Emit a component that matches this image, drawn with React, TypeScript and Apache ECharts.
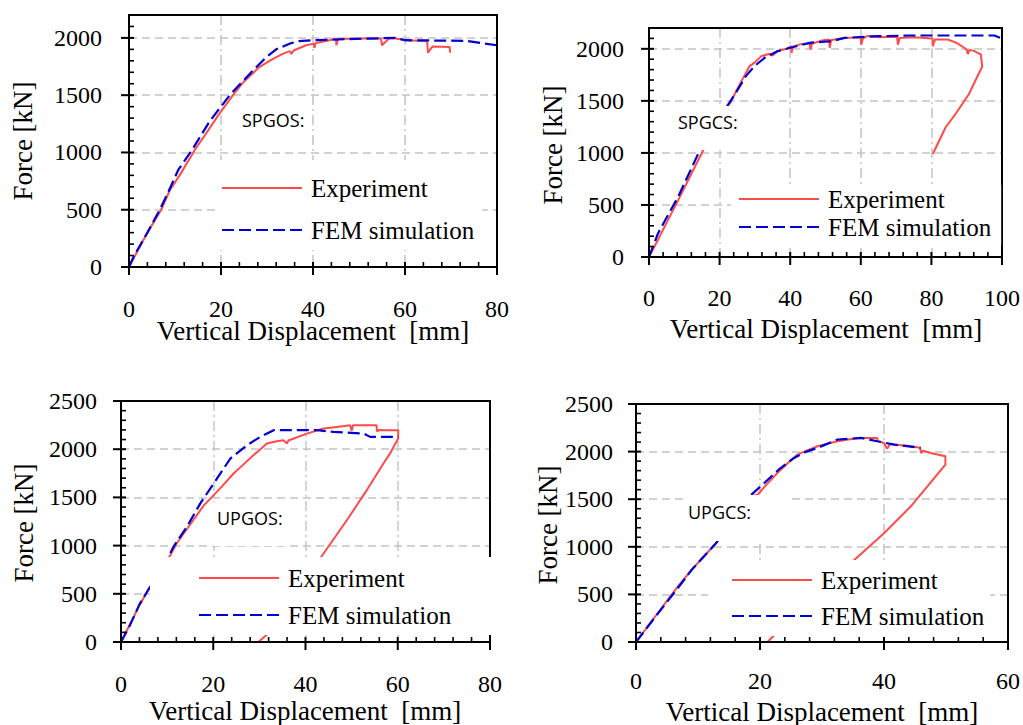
import React, { useEffect, useRef } from "react";
import * as echarts from "echarts";

type Pt = [number, number];

const SERIF = "Liberation Serif, Times New Roman, serif";
const SANS = "Open Sans, Noto Sans, sans-serif";

const seriesNames = ["Experiment", "FEM simulation"];
const panelLabels = ["SPGOS:", "SPGCS:", "UPGOS:", "UPGCS:"];
const xAxisTitle = "Vertical Displacement  [mm]";
const yAxisTitle = "Force [kN]";
const xMaxes = [80, 100, 80, 60];
const yMaxes = [2200, 2200, 2500, 2500];
const xTickLabels = [
  [0, 20, 40, 60, 80],
  [0, 20, 40, 60, 80, 100],
  [0, 20, 40, 60, 80],
  [0, 20, 40, 60],
];
const yTickLabels = [
  [0, 500, 1000, 1500, 2000],
  [0, 500, 1000, 1500, 2000],
  [0, 500, 1000, 1500, 2000, 2500],
  [0, 500, 1000, 1500, 2000, 2500],
];
const xMinorStep = 4;
const yMinorStep = 100;
const xInterval = 20;
const yInterval = 500;

// SPGOS
const spgosExp: Pt[] = [
  [0, 0], [2, 150], [4, 300], [7, 500], [8.9, 672], [11, 800], [14.3, 1022], [16.5, 1150],
  [19.5, 1330], [22.6, 1500], [25, 1620], [28.4, 1747], [31, 1810], [33.5, 1863], [35, 1885],
  [35.3, 1860], [35.8, 1890], [38.5, 1936], [40.2, 1950], [40.3, 1912], [40.6, 1955],
  [43.6, 1980], [45, 1994], [45.1, 1936], [45.4, 1990], [50, 1994], [54.8, 1994], [55, 1936],
  [55.6, 1960], [56.5, 1994], [58, 1994], [60, 1980], [64.8, 1974], [65, 1870], [65.5, 1900],
  [66, 1925], [69.7, 1920], [69.8, 1878], [70, 1878],
];
const spgosFem: Pt[] = [
  [0, 0], [1, 90], [4, 300], [6.7, 500], [8.5, 650], [10.7, 847], [13.7, 1022], [17.5, 1270],
  [21.9, 1500], [27, 1718], [29.9, 1834], [32, 1900], [34.9, 1950], [37, 1972], [40, 1980],
  [51.6, 1994], [58.1, 2000], [60, 1980], [73.3, 1974], [80, 1936],
];

// SPGCS
const spgcsExp: Pt[] = [
  [0, 0], [2, 130], [5, 330], [8.2, 542], [12, 800], [15.3, 1021], [18.5, 1230], [21.9, 1435],
  [23, 1480], [25.2, 1627], [27, 1740], [28.5, 1834], [30, 1870], [31.8, 1930], [34, 1950],
  [35, 1935], [36.5, 1978], [39, 2000], [40.3, 2026], [40.4, 1960], [40.7, 2020], [43, 2045],
  [45.5, 2057], [45.7, 1995], [46.2, 2050], [49, 2080], [51, 2089], [51.2, 2010], [51.6, 2085],
  [55.4, 2105], [60, 2112], [60.1, 2040], [60.6, 2100], [62, 2125], [65, 2112], [70.3, 2115],
  [70.5, 2040], [71, 2105], [75, 2110], [80.3, 2100], [80.4, 2025], [81, 2089], [84.6, 2089],
  [87, 2060], [89.3, 2010], [90, 1990], [90.3, 1950], [90.8, 1990], [92, 1980], [94, 1946],
  [94.4, 1830], [90.6, 1563], [86.8, 1372], [84, 1244], [80.4, 989],
];
const spgcsFem: Pt[] = [
  [0, 0], [2.5, 223], [5, 380], [8.2, 574], [13.9, 989], [18, 1230], [21.9, 1435], [25, 1600],
  [27.5, 1740], [29.9, 1834], [33, 1920], [36.5, 1978], [40, 2010], [45.9, 2060], [51.6, 2073],
  [55.4, 2105], [64.8, 2121], [74.2, 2128], [97.8, 2128], [100, 2099],
];

// UPGOS
const upgosExp: Pt[] = [
  [0, 0], [2, 190], [4, 380], [6.35, 576], [8.5, 730], [10.3, 869], [12.1, 1024], [15.7, 1266],
  [18, 1420], [20.1, 1524], [22, 1620], [24.4, 1748], [26.5, 1840], [28.7, 1938], [30, 1990],
  [31.6, 2059], [33.5, 2080], [35.2, 2093], [36, 2060], [36.3, 2090], [40.3, 2162], [43.9, 2214],
  [46.8, 2231], [49.7, 2248], [50, 2190], [50.3, 2248], [55.4, 2248], [55.5, 2185], [56, 2200],
  [56.9, 2197], [60.1, 2197], [60.1, 2110], [58.5, 1970], [56.9, 1852], [53.3, 1576],
  [49, 1266], [43.2, 869], [38, 500], [33.5, 180], [31.6, 76], [29.8, 0],
];
const upgosFem: Pt[] = [
  [0, 0], [2, 180], [4, 390], [6.35, 576], [8.5, 740], [10.3, 886], [11.4, 990], [14.3, 1197],
  [17.2, 1438], [20.1, 1645], [23.7, 1903], [27.3, 2041], [30.2, 2128], [33.1, 2197],
  [42.5, 2197], [46.1, 2179], [52.6, 2162], [54, 2128], [60.1, 2128],
];

// UPGCS
const upgcsExp: Pt[] = [
  [0, 0], [3, 260], [6.7, 580], [9, 760], [12.9, 1037], [15.5, 1270], [18.3, 1529], [19.6, 1547],
  [21, 1650], [22.8, 1775], [24.5, 1880], [26, 1968], [27.5, 2010], [29.3, 2056], [31, 2085],
  [32.5, 2109], [34.5, 2130], [36.3, 2144], [38.9, 2144], [39, 2110], [40, 2091], [40.5, 2030],
  [41, 2080], [44.3, 2056], [45.8, 2040], [46, 1985], [46.3, 2010], [47.5, 1986], [49.9, 1951],
  [49.9, 1863], [47, 1634], [44.3, 1423], [40, 1142], [35.2, 861], [28, 380], [22.3, 70],
  [21.2, 0],
];
const upgcsFem: Pt[] = [
  [0, 0], [3, 255], [6.7, 562], [9, 760], [12.9, 1037], [15.5, 1280], [18.3, 1529], [20.7, 1670],
  [23, 1810], [25.5, 1933], [27.5, 2000], [29.3, 2039], [32.5, 2127], [36.3, 2144], [38.9, 2109],
  [41.6, 2074], [45.9, 2039],
];

const expSets = [spgosExp, spgcsExp, upgosExp, upgcsExp];
const femSets = [spgosFem, spgcsFem, upgosFem, upgcsFem];

// layout (pixels)
const layouts = [
  {
    grid: { left: 129, top: 15, width: 368, height: 252 },
    xLabelOffset: 42, yLabelMargin: 27,
    xTitle: { x: 313, y: 331 }, yTitle: { x: 23, y: 141 },
    legend: { left: 220, top: 160, gap: 14, padding: [14, 8, 6, 1] },
    label: { x: 238, y: 104, padding: [7, 6, 19, 4] },
  },
  {
    grid: { left: 649, top: 28, width: 353, height: 229 },
    xLabelOffset: 41, yLabelMargin: 25,
    xTitle: { x: 826, y: 329 }, yTitle: { x: 553, y: 145 },
    legend: { left: 731, top: 185, gap: 0, padding: [0, 10, 4, 7] },
    label: { x: 674, y: 106, padding: [7, 5, 19, 4] },
  },
  {
    grid: { left: 121, top: 401, width: 369, height: 241 },
    xLabelOffset: 42, yLabelMargin: 24,
    xTitle: { x: 305, y: 711 }, yTitle: { x: 24, y: 523 },
    legend: { left: 150, top: 557, gap: 9, padding: [7, 40, 6, 48] },
    label: { x: 213, y: 502, padding: [7, 6, 19, 4] },
  },
  {
    grid: { left: 636, top: 404, width: 372, height: 238 },
    xLabelOffset: 39, yLabelMargin: 23,
    xTitle: { x: 822, y: 712 }, yTitle: { x: 548, y: 525 },
    legend: { left: 708, top: 560, gap: 8, padding: [6, 6, 6, 23] },
    label: { x: 684, y: 495, padding: [8, 36, 20, 4] },
  },
];

const RED = "#ff4a4a";
const BLUE = "#0000d4";

function makeAxis(i: number, isX: boolean) {
  return {
    type: "value",
    gridIndex: i,
    min: 0,
    max: isX ? xMaxes[i] : yMaxes[i],
    interval: isX ? xInterval : yInterval,
    axisLine: { show: false },
    axisTick: { show: false },
    minorTick: { show: false },
    axisLabel: { show: false },
    splitLine: {
      show: true,
      showMinLine: false,
      showMaxLine: false,
      lineStyle: { color: "#c4c4c4", width: 1.5, type: isX ? [10, 4, 2, 4] : [8, 5] },
    },
  };
}

// axis ticks, tick labels and axis lines drawn through the axes' own scales
function axisSeries(i: number) {
  const l = layouts[i];
  return {
    type: "custom",
    name: "axis" + i,
    xAxisIndex: i,
    yAxisIndex: i,
    data: [[0, 0]],
    clip: false,
    silent: true,
    z: 8,
    renderItem: (params: any, api: any) => {
      const children: any[] = [];
      const origin = api.coord([0, 0]);
      const x0 = origin[0];
      const y0 = origin[1];
      const black = { stroke: "#000", lineWidth: 2 };
      const thin = { stroke: "#000", lineWidth: 1.6 };
      for (let v = 0; v <= xMaxes[i] + 1e-9; v += xMinorStep) {
        const p = api.coord([v, 0]);
        const isMajor = v % xInterval === 0;
        children.push({
          type: "line",
          shape: { x1: p[0], y1: isMajor ? y0 + 8 : y0, x2: p[0], y2: y0 - 5 },
          style: isMajor ? black : thin,
        });
      }
      for (let v = 0; v <= yMaxes[i] + 1e-9; v += yMinorStep) {
        const p = api.coord([0, v]);
        const isMajor = v % yInterval === 0;
        children.push({
          type: "line",
          shape: { x1: isMajor ? x0 - 8 : x0, y1: p[1], x2: x0 + 5, y2: p[1] },
          style: isMajor ? black : thin,
        });
      }
      xTickLabels[i].forEach((v) => {
        const p = api.coord([v, 0]);
        children.push({
          type: "text",
          x: p[0],
          y: y0 + l.xLabelOffset,
          style: {
            text: String(v),
            fontFamily: SERIF,
            fontSize: 24,
            fill: "#000",
            align: "center",
            verticalAlign: "middle",
          },
        });
      });
      yTickLabels[i].forEach((v) => {
        const p = api.coord([0, v]);
        children.push({
          type: "text",
          x: x0 - l.yLabelMargin,
          y: p[1],
          style: {
            text: String(v),
            fontFamily: SERIF,
            fontSize: 24,
            fill: "#000",
            align: "right",
            verticalAlign: "middle",
          },
        });
      });
      return { type: "group", children };
    },
  };
}

function buildOption() {
  const graphics: any[] = [];
  layouts.forEach((l, i) => {
    graphics.push({
      type: "rect",
      z: 10,
      silent: true,
      shape: { x: l.grid.left, y: l.grid.top, width: l.grid.width, height: l.grid.height },
      style: { fill: "none", stroke: "#000", lineWidth: 2 },
    });
    graphics.push({
      type: "text",
      x: l.xTitle.x,
      y: l.xTitle.y,
      z: 12,
      style: {
        text: xAxisTitle,
        fontFamily: SERIF,
        fontSize: 27,
        fill: "#000",
        align: "center",
        verticalAlign: "middle",
      },
    });
    graphics.push({
      type: "text",
      x: l.yTitle.x,
      y: l.yTitle.y,
      rotation: Math.PI / 2,
      z: 12,
      style: {
        text: yAxisTitle,
        fontFamily: SERIF,
        fontSize: 27,
        fill: "#000",
        align: "center",
        verticalAlign: "middle",
      },
    });
    graphics.push({
      type: "text",
      x: l.label.x,
      y: l.label.y,
      z: 30,
      style: {
        text: panelLabels[i],
        fontFamily: SANS,
        fontSize: 18,
        fill: "#000",
        backgroundColor: "#fff",
        padding: l.label.padding,
        align: "left",
        verticalAlign: "top",
      },
    });
  });

  return {
    animation: false,
    backgroundColor: "#fff",
    grid: layouts.map((l) => ({
      left: l.grid.left,
      top: l.grid.top,
      width: l.grid.width,
      height: l.grid.height,
    })),
    xAxis: layouts.map((l, i) => makeAxis(i, true)),
    yAxis: layouts.map((l, i) => makeAxis(i, false)),
    legend: layouts.map((l) => ({
      show: true,
      orient: "vertical",
      left: l.legend.left,
      top: l.legend.top,
      data: seriesNames,
      itemWidth: 80,
      itemHeight: 12,
      itemGap: l.legend.gap,
      padding: l.legend.padding,
      backgroundColor: "#fff",
      selectedMode: false,
      itemStyle: { opacity: 0 },
      textStyle: { fontFamily: SERIF, fontSize: 25, color: "#000", lineHeight: 28, padding: [0, 0, 0, 4] },
      z: 20,
    })),
    series: [
      ...layouts.flatMap((l, i) => [
        {
          type: "line",
          name: seriesNames[0],
          xAxisIndex: i,
          yAxisIndex: i,
          data: expSets[i],
          symbol: "none",
          lineStyle: { color: RED, width: 2 },
          itemStyle: { color: RED },
          z: 2,
        },
        {
          type: "line",
          name: seriesNames[1],
          xAxisIndex: i,
          yAxisIndex: i,
          data: femSets[i],
          symbol: "none",
          lineStyle: { color: BLUE, width: 2.2, type: [12, 5] },
          itemStyle: { color: BLUE },
          z: 3,
        },
      ]),
      ...layouts.map((l, i) => axisSeries(i)),
    ],
    graphic: graphics,
  };
}

export default function App() {
  const ref = useRef<HTMLDivElement>(null);
  useEffect(() => {
    if (!ref.current) return;
    const chart = echarts.init(ref.current, undefined, { renderer: "svg" });
    chart.setOption(buildOption() as any);
    return () => chart.dispose();
  }, []);
  return (
    <div
      ref={ref}
      style={{ position: "absolute", left: 0, top: 0, width: 1023, height: 725, background: "#fff" }}
    />
  );
}
